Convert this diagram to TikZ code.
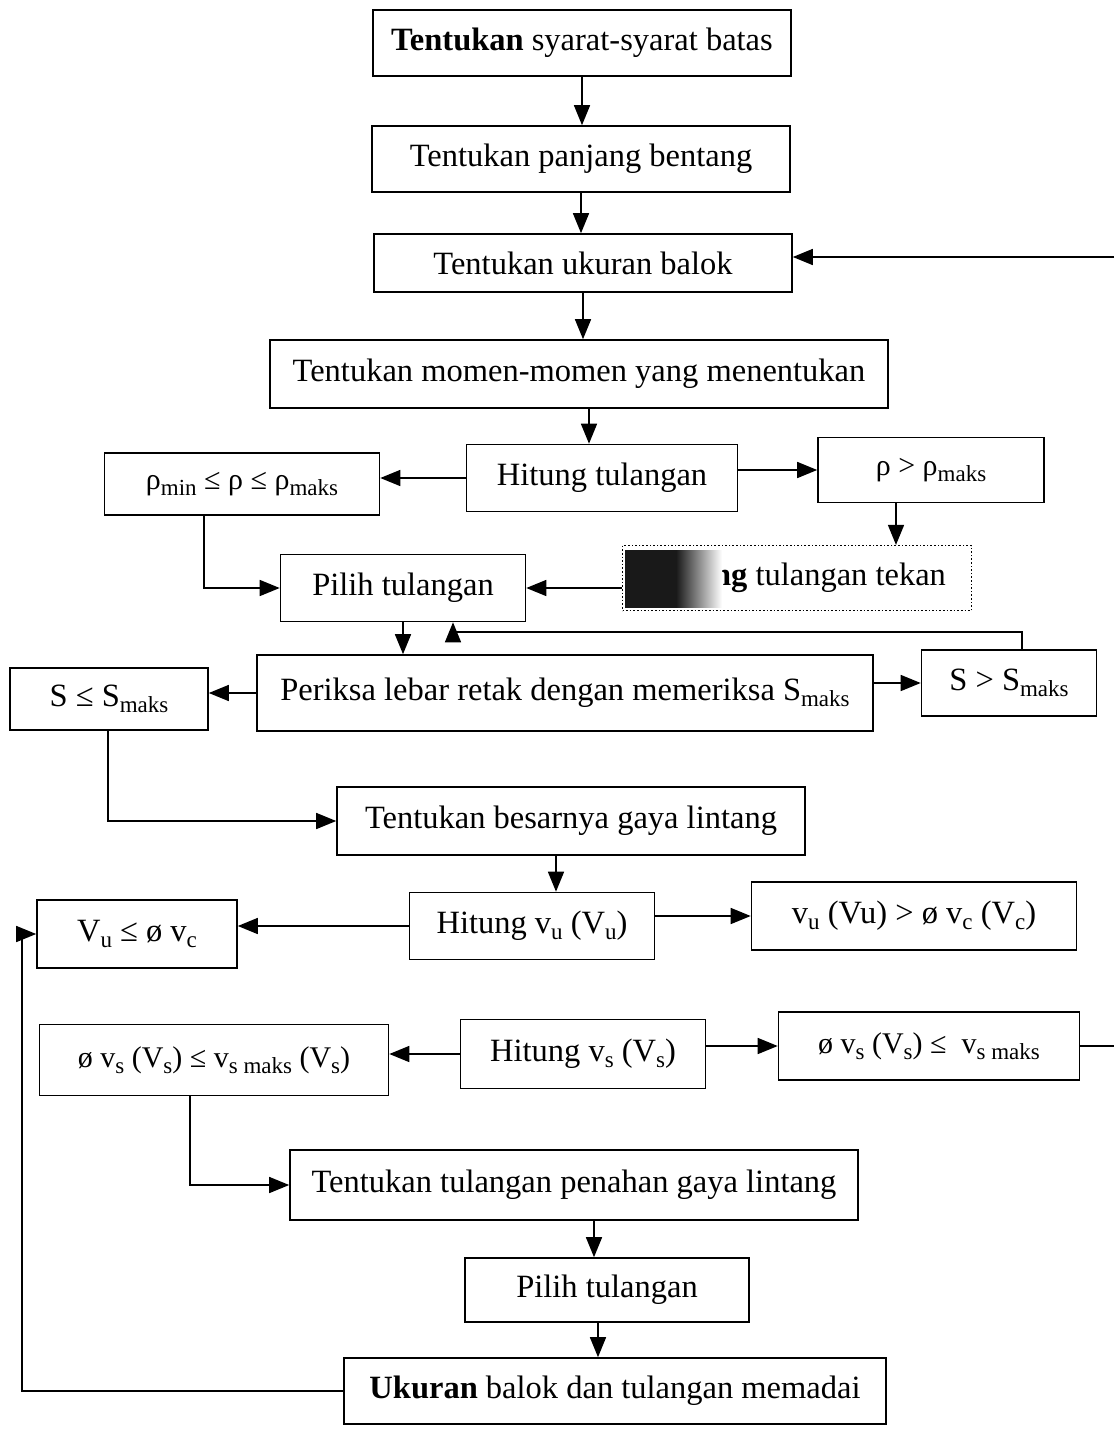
\documentclass[tikz,border=0pt]{standalone}
\usepackage{fontspec}
\setmainfont{Liberation Serif}
\usetikzlibrary{arrows.meta}
\newcommand\FontA{\fontsize{32.5}{36}\selectfont}
\newcommand\FontB{\fontsize{30}{34}\selectfont}
\newcommand\sbs[1]{\raisebox{-6pt}{\fontsize{23}{24}\selectfont #1}}
\begin{document}
\begin{tikzpicture}[x=1pt,y=-1pt,
  box/.style={draw, line width=1.6pt, inner sep=0pt, font=\FontA},
  sbox/.style={box, font=\FontB},
  arr/.style={line width=1.5pt, -{Triangle[length=20pt,width=16pt]}},
  ln/.style={line width=1.5pt}]
\useasboundingbox[fill=white] (0,0) rectangle (1114,1429);

\node[box, minimum width=418pt, minimum height=66pt] (b1) at (582,43) {\textbf{Tentukan} syarat-syarat batas};
\node[box, minimum width=418pt, minimum height=66pt] (b2) at (581,159) {Tentukan panjang bentang};
\node[box, minimum width=418pt, minimum height=58pt] (b3) at (583,263) {Tentukan ukuran balok};
\node[box, minimum width=618pt, minimum height=68pt] (b4) at (579,374) {Tentukan momen-momen yang menentukan};
\node[box, minimum width=271pt, minimum height=67pt] (b5) at (602,478) {Hitung tulangan};
\node[sbox, minimum width=275pt, minimum height=62pt] (b6) at (242,484) {ρ\sbs{min} ≤ ρ ≤ ρ\sbs{maks}};
\node[sbox, minimum width=226pt, minimum height=65pt] (b7) at (931,470) {ρ > ρ\sbs{maks}};
\node[box, dotted, line width=1.2pt, minimum width=349pt, minimum height=65pt] (b8) at (797,578) {\textbf{Pasang} tulangan tekan};
\shade[left color=black!90, right color=black!90, middle color=black!90] (625,550) rectangle (676,607);
\shade[left color=black!90, right color=white] (676,550) rectangle (722,607);
\node[box, minimum width=245pt, minimum height=67pt] (b9) at (403,588) {Pilih tulangan};
\node[box, minimum width=616pt, minimum height=76pt] (b10) at (565,693) {Periksa lebar retak dengan memeriksa S\sbs{maks}};
\node[box, minimum width=198pt, minimum height=62pt] (b11) at (109,699) {S ≤ S\sbs{maks}};
\node[box, minimum width=175pt, minimum height=66pt] (b12) at (1009,683) {S > S\sbs{maks}};
\node[box, minimum width=468pt, minimum height=68pt] (b13) at (571,821) {Tentukan besarnya gaya lintang};
\node[box, minimum width=245pt, minimum height=67pt] (b14) at (532,926) {Hitung v\sbs{u} (V\sbs{u})};
\node[box, minimum width=200pt, minimum height=68pt] (b15) at (137,934) {V\sbs{u} ≤ ø v\sbs{c}};
\node[box, minimum width=325pt, minimum height=68pt] (b16) at (914,916) {v\sbs{u} (Vu) > ø v\sbs{c} (V\sbs{c})};
\node[sbox, minimum width=349pt, minimum height=71pt] (b17) at (214,1060) {ø v\sbs{s} (V\sbs{s}) ≤ v\sbs{s maks} (V\sbs{s})};
\node[box, minimum width=245pt, minimum height=69pt] (b18) at (583,1054) {Hitung v\sbs{s} (V\sbs{s})};
\node[sbox, minimum width=301pt, minimum height=68pt] (b19) at (929,1046) {ø v\sbs{s} (V\sbs{s}) ≤ ~v\sbs{s maks}};
\node[box, minimum width=568pt, minimum height=70pt] (b20) at (574,1185) {Tentukan tulangan penahan gaya lintang};
\node[box, minimum width=284pt, minimum height=64pt] (b21) at (607,1290) {Pilih tulangan};
\node[box, minimum width=542pt, minimum height=66pt] (b22) at (615,1391) {\textbf{Ukuran} balok dan tulangan memadai};

\coordinate (r1) at (1114,257);
\coordinate (r2) at (1114,1046);
\coordinate (c1) at (453,632);
\coordinate (l1) at (22,0);

\draw[arr] (b1.south) -- (b1.south |- b2.north);
\draw[arr] (b2.south) -- (b2.south |- b3.north);
\draw[arr] (b3.south) -- (b3.south |- b4.north);
\draw[arr] ([xshift=10pt]b4.south) -- ([xshift=-13pt]b5.north);
\draw[arr] (b5.west) -- (b5.west -| b6.east);
\draw[arr] (b7.west -| b5.east) -- (b7.west);
\draw[arr] ([xshift=-35pt]b7.south) -- ([xshift=-35pt]b7.south |- b8.north);
\draw[arr] (b9.east -| b8.west) -- (b9.east);
\draw[arr] ([xshift=-38pt]b6.south) |- (b9.west);
\draw[arr] (b9.south) -- (b9.south |- b10.north);
\draw[arr] ([xshift=13pt]b12.north) |- (c1) -- (c1 |- b9.south);
\draw[arr] (b10.west) -- (b10.west -| b11.east);
\draw[arr] (b12.west -| b10.east) -- (b12.west);
\draw[arr] ([xshift=-1pt]b11.south) |- (b13.west);
\draw[arr] ([xshift=-15pt]b13.south) -- ([xshift=24pt]b14.north);
\draw[arr] (b14.west) -- (b14.west -| b15.east);
\draw[arr] (b16.west -| b14.east) -- (b16.west);
\draw[arr] (b18.west) -- (b18.west -| b17.east);
\draw[arr] (b19.west -| b18.east) -- (b19.west);
\draw[ln] (b19.east) -- (r2);
\draw[arr] (r1) -- (r1 -| b3.east);
\draw[arr] ([xshift=-24pt]b17.south) |- (b20.west);
\draw[arr] ([xshift=20pt]b20.south) -- ([xshift=-13pt]b21.north);
\draw[arr] ([xshift=-9pt]b21.south) -- ([xshift=-17pt]b22.north);
\draw[arr] (b22.west) -- (b22.west -| l1) -- (l1 |- b15.west) -- (b15.west);
\end{tikzpicture}
\end{document}
